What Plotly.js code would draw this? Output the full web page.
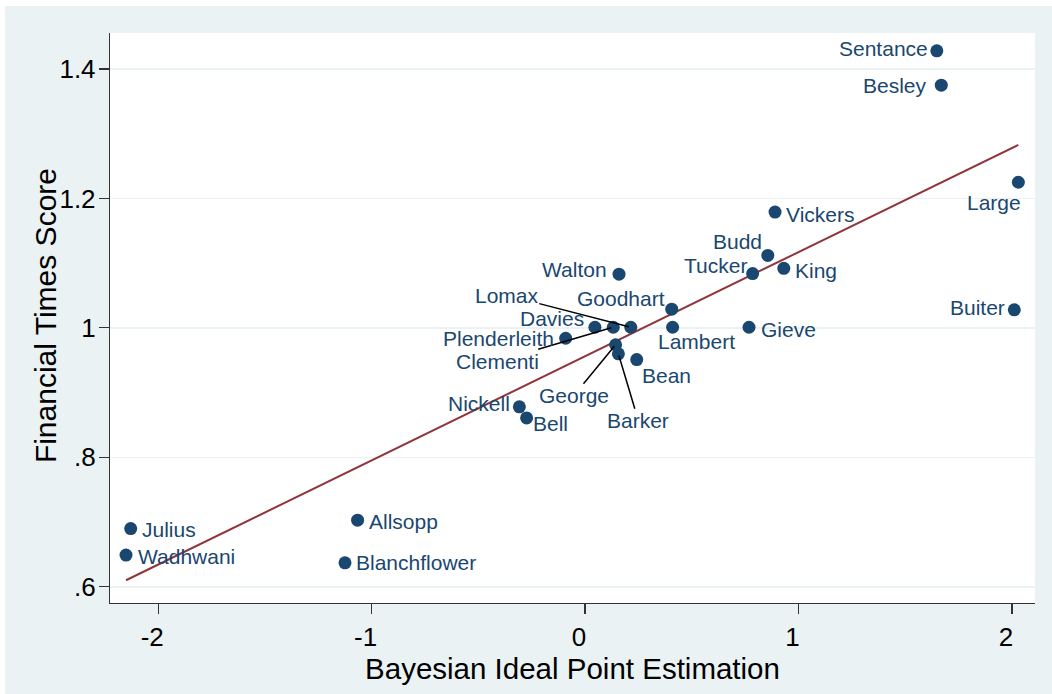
<!DOCTYPE html>
<html>
<head>
<meta charset="utf-8">
<script src="https://cdn.plot.ly/plotly-3.0.1.min.js"></script>
<style>
  html, body { margin: 0; padding: 0; background: #ffffff; }
  #chart { position: absolute; left: 5px; top: 6px; width: 1047px; height: 688px; }
</style>
</head>
<body>
<div id="chart"></div>
<script>
// ---- Data ----
const members = ["Sentance","Besley","Large","Vickers","Budd","Tucker","King","Buiter","Gieve",
  "Walton","Goodhart","Lambert","Davies","Lomax","Clementi","Plenderleith","George","Barker","Bean",
  "Nickell","Bell","Julius","Wadhwani","Allsopp","Blanchflower"];
const idealPoint = [1.648, 1.669, 2.030, 0.890, 0.856, 0.785, 0.931, 2.011, 0.768,
  0.159, 0.406, 0.410, 0.046, 0.214, 0.132, -0.091, 0.143, 0.156, 0.242,
  -0.308, -0.274, -2.129, -2.151, -1.066, -1.125];
const ftScore = [1.428, 1.375, 1.225, 1.179, 1.112, 1.084, 1.092, 1.028, 1.001,
  1.083, 1.029, 1.001, 1.001, 1.001, 1.001, 0.984, 0.974, 0.960, 0.951,
  0.878, 0.861, 0.690, 0.649, 0.703, 0.637];
const xTickVals = [-2, -1, 0, 1, 2];
const xTickText = ["-2", "-1", "0", "1", "2"];
const yTickVals = [0.6, 0.8, 1.0, 1.2, 1.4];
const yTickText = [".6", ".8", "1", "1.2", "1.4"];
const xTitle = "Bayesian Ideal Point Estimation";
const yTitle = "Financial Times Score";

// ---- Label placement (style only): [xanchor, xshift, yshift] or arrow {ax, ay} ----
const place = {
  Sentance: ["right", -8, 2], Besley: ["right", -13, 0], Large: ["right", 4, -20],
  Vickers: ["left", 10, -2], Budd: ["right", -5, 14], Tucker: ["right", -5, 8],
  King: ["left", 10, -2], Buiter: ["right", -8, 2], Gieve: ["left", 11, -2],
  Walton: ["right", -11, 5], Goodhart: ["right", -6, 11], Lambert: ["left", -16, -14],
  Davies: ["right", -10, 9], Plenderleith: ["right", -11, 0], Bean: ["left", 4, -16],
  Nickell: ["right", -8, 3], Bell: ["left", 5, -6], Julius: ["left", 10, -1],
  Wadhwani: ["left", 11, -1], Allsopp: ["left", 10, -1], Blanchflower: ["left", 10, 0],
  Lomax: {ax: -124, ay: -32}, Clementi: {ax: -116, ay: 34},
  George: {ax: -42, ay: 51}, Barker: {ax: 20, ay: 67}
};

const navy = "#1A476F";
const maroon = "#90353B";
const FONT = "Liberation Sans, Arial, Helvetica, sans-serif";

// ---- Linear fit (OLS) from the data ----
const n = idealPoint.length;
const mx = idealPoint.reduce((a, b) => a + b, 0) / n;
const my = ftScore.reduce((a, b) => a + b, 0) / n;
let sxy = 0, sxx = 0;
for (let i = 0; i < n; i++) {
  sxy += (idealPoint[i] - mx) * (ftScore[i] - my);
  sxx += (idealPoint[i] - mx) * (idealPoint[i] - mx);
}
const slope = sxy / sxx;
const intercept = my - slope * mx;
const xmin = Math.min(...idealPoint), xmax = Math.max(...idealPoint);
const fitX = [xmin, xmax];
const fitY = fitX.map(v => intercept + slope * v);

const annotations = members.map((name, i) => {
  const p = place[name];
  const base = {
    x: idealPoint[i], y: ftScore[i], xref: "x", yref: "y", text: name,
    font: {family: FONT, size: 21, color: navy}, borderpad: 0
  };
  if (Array.isArray(p)) {
    return Object.assign(base, {
      showarrow: false, xanchor: p[0], yanchor: "middle", xshift: p[1], yshift: p[2]
    });
  }
  return Object.assign(base, {
    showarrow: true, ax: p.ax, ay: p.ay, arrowhead: 0, arrowwidth: 1.5,
    arrowcolor: "#000000", standoff: 2, startstandoff: 0
  });
});

// y-axis title drawn as a rotated annotation for precise placement
annotations.push({
  text: yTitle, xref: "paper", yref: "paper", x: -0.0703, y: 0.505,
  xanchor: "center", yanchor: "middle", textangle: -90, showarrow: false,
  font: {family: FONT, size: 30, color: "#000000"}
});

const traces = [
  {
    x: fitX, y: fitY, mode: "lines", type: "scatter",
    line: {color: maroon, width: 2}, hoverinfo: "skip", showlegend: false
  },
  {
    x: idealPoint, y: ftScore, mode: "markers", type: "scatter", text: members,
    marker: {color: navy, size: 13, line: {width: 0}}, showlegend: false
  }
];

const layout = {
  width: 1047, height: 688,
  paper_bgcolor: "#EAF2F3", plot_bgcolor: "#FFFFFF",
  margin: {l: 105, r: 17, t: 27, b: 91},
  font: {family: FONT, color: "#000000"},
  showlegend: false,
  xaxis: {
    range: [-2.226, 2.108], tickvals: xTickVals, ticktext: xTickText,
    ticks: "outside", ticklen: 10, tickwidth: 1.2, tickcolor: "#333333",
    ticklabelshift: -6, ticklabelstandoff: 1,
    showline: true, linecolor: "#333333", linewidth: 1.2, mirror: false,
    showgrid: false, zeroline: false,
    tickfont: {family: FONT, size: 26, color: "#000000"},
    title: {text: xTitle, font: {family: FONT, size: 29.5, color: "#000000"}, standoff: 0}
  },
  yaxis: {
    range: [0.575, 1.4556], tickvals: yTickVals, ticktext: yTickText,
    ticks: "outside", ticklen: 10, tickwidth: 1.2, tickcolor: "#333333",
    ticklabelstandoff: -2,
    showline: true, linecolor: "#333333", linewidth: 1.2, mirror: false,
    showgrid: true, gridcolor: "#EAF2F3", gridwidth: 1.5, zeroline: false,
    tickfont: {family: FONT, size: 26, color: "#000000"}
  },
  annotations: annotations
};

Plotly.newPlot("chart", traces, layout, {displayModeBar: false, staticPlot: true});
</script>
</body>
</html>
